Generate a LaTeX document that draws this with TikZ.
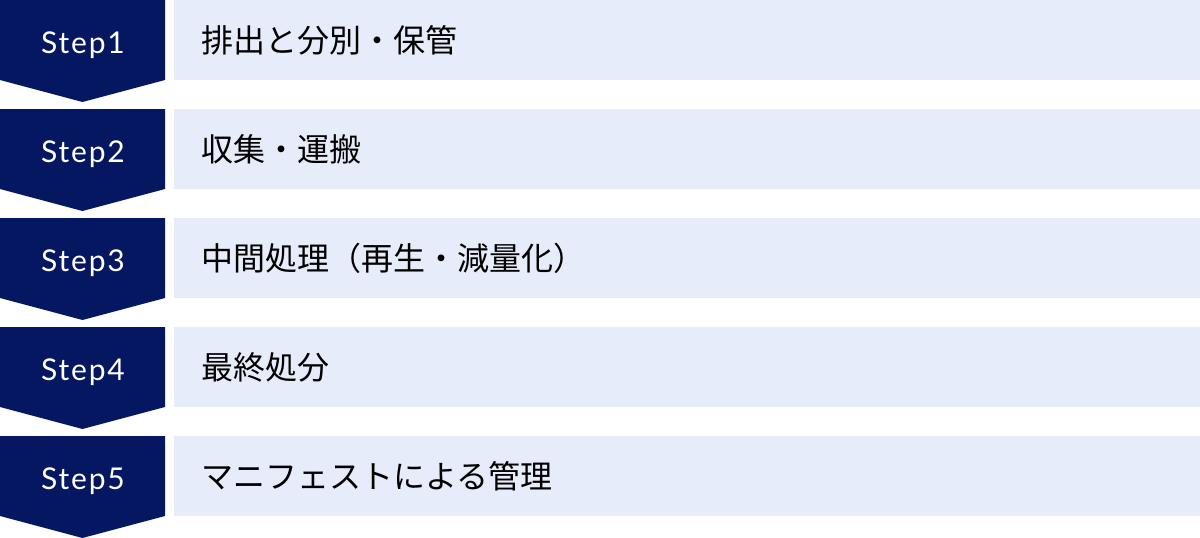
\documentclass[tikz,border=0pt]{standalone}
\usepackage{fontspec}
\newfontfamily\jpfont{Noto Sans CJK JP}
\newfontfamily\stepfont[LetterSpace=6]{Lato}
\definecolor{stepnavy}{RGB}{4,23,96}
\definecolor{rowblue}{RGB}{230,236,249}
\begin{document}
\begin{tikzpicture}[x=1pt,y=-1pt,
  stepshape/.style={fill=stepnavy},
  steptext/.style={anchor=base,text=white,inner sep=0pt,font=\stepfont\fontsize{30}{30}\selectfont},
  rowbox/.style={fill=rowblue},
  rowtext/.style={anchor=base west,inner sep=0pt,text=black,font=\jpfont\fontsize{32}{32}\selectfont}]
\useasboundingbox (0,0) rectangle (1200,538);
% Step1
\fill [stepshape] (0,0) -- (165,0) -- (165,80) -- (82.5,102) -- (0,80) -- cycle;
\fill [rowbox] (174,0) rectangle (1200,80);
\node [steptext] (s1) at (83,53) {Step1};
\node [rowtext] (t1) at (201,52) {排出と分別・保管};
% Step2
\fill [stepshape] (0,109) -- (165,109) -- (165,189) -- (82.5,211) -- (0,189) -- cycle;
\fill [rowbox] (174,109) rectangle (1200,189);
\node [steptext] (s2) at (83,162) {Step2};
\node [rowtext] (t2) at (201,161) {収集・運搬};
% Step3
\fill [stepshape] (0,218) -- (165,218) -- (165,298) -- (82.5,320) -- (0,298) -- cycle;
\fill [rowbox] (174,218) rectangle (1200,298);
\node [steptext] (s3) at (83,271) {Step3};
\node [rowtext] (t3) at (201,270) {中間処理（再生・減量化）};
% Step4
\fill [stepshape] (0,327) -- (165,327) -- (165,407) -- (82.5,429) -- (0,407) -- cycle;
\fill [rowbox] (174,327) rectangle (1200,407);
\node [steptext] (s4) at (83,380) {Step4};
\node [rowtext] (t4) at (201,379) {最終処分};
% Step5
\fill [stepshape] (0,436) -- (165,436) -- (165,516) -- (82.5,538) -- (0,516) -- cycle;
\fill [rowbox] (174,436) rectangle (1200,516);
\node [steptext] (s5) at (83,489) {Step5};
\node [rowtext] (t5) at (201,488) {マニフェストによる管理};
\end{tikzpicture}
\end{document}
